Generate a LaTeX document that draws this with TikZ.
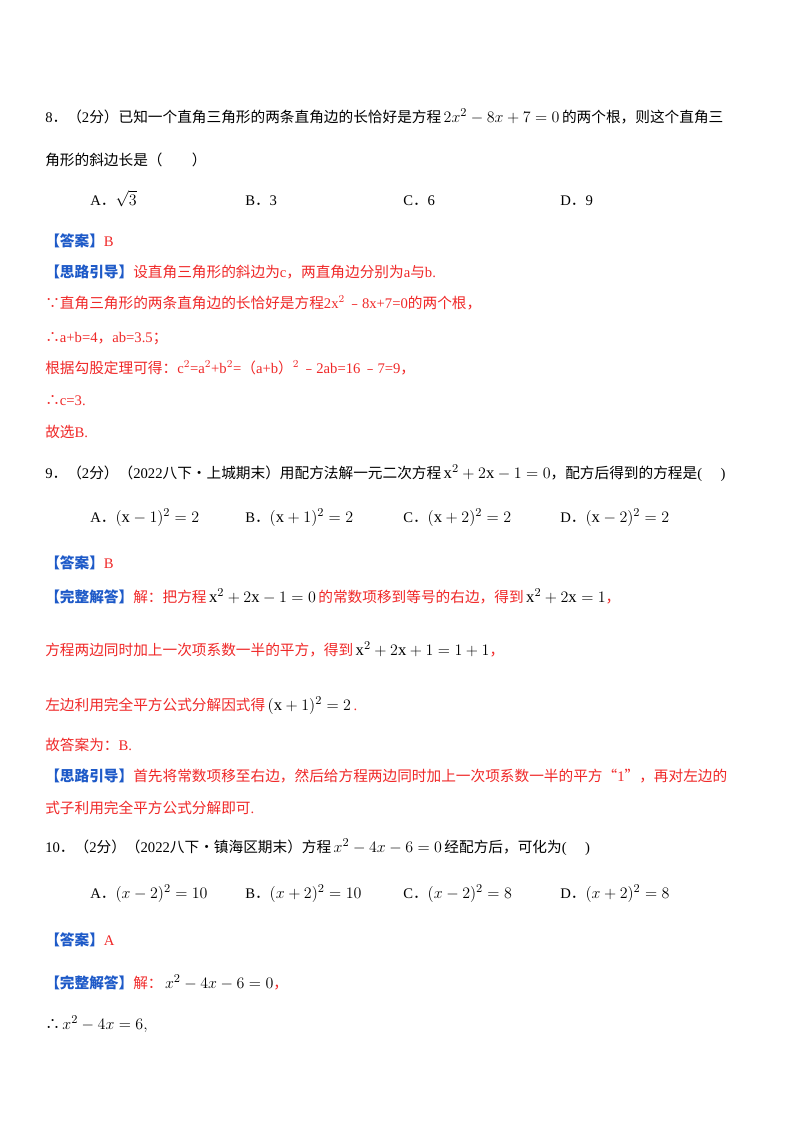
\documentclass[tikz,border=0pt]{standalone}
\usepackage{fontspec}
\setmainfont{Liberation Serif}
\newfontfamily\zhf{Noto Sans CJK SC}
\newcommand\zh[1]{{\zhf #1}}
\definecolor{ansred}{RGB}{240,40,40}
\definecolor{lblue}{RGB}{30,90,200}
\newcommand\lab[1]{{\color{lblue}\zhf\bfseries 【#1】}}
\newcommand\eq[1]{{\fontsize{12.5pt}{14pt}\selectfont$#1$}}
\begin{document}
\begin{tikzpicture}[x=0.75pt,y=-0.75pt,
  t/.style={anchor=base west,inner sep=0pt,font=\fontsize{11pt}{13pt}\selectfont},
  r/.style={t,text=ansred}]
\useasboundingbox (0,0) rectangle (800,1132);
\fill[white] (0,0) rectangle (800,1132);
% Q8
\node[t] (q8a) at (45,122) {8\zh{．（}2\zh{分）已知一个直角三角形的两条直角边的长恰好是方程}\,\eq{2x^2-8x+7=0}\,\zh{的两个根，则这个直角三}};
\node[t] (q8b) at (45,165) {\zh{角形的斜边长是（　　）}};
\node[t] (a8a) at (90,205) {A\zh{．}\eq{\sqrt{3}}};
\node[t] (a8b) at (245,205) {B\zh{．}3};
\node[t] (a8c) at (403,205) {C\zh{．}6};
\node[t] (a8d) at (560,205) {D\zh{．}9};
\node[t] (ans8) at (45,246) {\lab{答案}{\color{ansred}B}};
\node[r] (s81) at (45,277) {\lab{思路引导}\zh{设直角三角形的斜边为}c\zh{，两直角边分别为}a\zh{与}b.};
\node[r] (s82) at (45,308) {\zh{∵直角三角形的两条直角边的长恰好是方程}2x$^2$\,\zh{﹣}8x+7=0\zh{的两个根，}};
\node[r] (s83) at (45,342) {\zh{∴}a+b=4\zh{，}ab=3.5\zh{；}};
\node[r] (s84) at (45,373) {\zh{根据勾股定理可得：}c$^2$=a$^2$+b$^2$=\zh{（}a+b\zh{）}$^2$\,\zh{﹣}2ab=16\,\zh{﹣}7=9\zh{，}};
\node[r] (s85) at (45,405) {\zh{∴}c=3.};
\node[r] (s86) at (45,437) {\zh{故选}B.};
% Q9
\node[t] (q9) at (45,478) {9\zh{．（}2\zh{分）（}2022\zh{八下·上城期末）用配方法解一元二次方程}\,\eq{\mathrm{x}^2+2\mathrm{x}-1=0}\zh{，配方后得到的方程是}(\quad\ )};
\node[t] (a9a) at (90,522) {A\zh{．}\eq{(\mathrm{x}-1)^2=2}};
\node[t] (a9b) at (245,522) {B\zh{．}\eq{(\mathrm{x}+1)^2=2}};
\node[t] (a9c) at (403,522) {C\zh{．}\eq{(\mathrm{x}+2)^2=2}};
\node[t] (a9d) at (560,522) {D\zh{．}\eq{(\mathrm{x}-2)^2=2}};
\node[t] (ans9) at (45,568) {\lab{答案}{\color{ansred}B}};
\node[r] (s91) at (45,602) {\lab{完整解答}\zh{解：把方程}\,{\color{black}\eq{\mathrm{x}^2+2\mathrm{x}-1=0}}\,\zh{的常数项移到等号的右边，得到}\,{\color{black}\eq{\mathrm{x}^2+2\mathrm{x}=1}}\zh{，}};
\node[r] (s92) at (45,655) {\zh{方程两边同时加上一次项系数一半的平方，得到}\,{\color{black}\eq{\mathrm{x}^2+2\mathrm{x}+1=1+1}}\zh{，}};
\node[r] (s93) at (45,710) {\zh{左边利用完全平方公式分解因式得}\,{\color{black}\eq{(\mathrm{x}+1)^2=2}}\,.};
\node[r] (s94) at (45,750) {\zh{故答案为：}B.};
\node[r] (s95) at (45,781) {\lab{思路引导}\zh{首先将常数项移至右边，然后给方程两边同时加上一次项系数一半的平方“}1\zh{”，再对左边的}};
\node[r] (s96) at (45,813) {\zh{式子利用完全平方公式分解即可}.};
% Q10
\node[t] (q10) at (45,852) {10\zh{．（}2\zh{分）（}2022\zh{八下·镇海区期末）方程}\,\eq{x^2-4x-6=0}\,\zh{经配方后，可化为}(\quad\ )};
\node[t] (a10a) at (90,898) {A\zh{．}\eq{(x-2)^2=10}};
\node[t] (a10b) at (245,898) {B\zh{．}\eq{(x+2)^2=10}};
\node[t] (a10c) at (403,898) {C\zh{．}\eq{(x-2)^2=8}};
\node[t] (a10d) at (560,898) {D\zh{．}\eq{(x+2)^2=8}};
\node[t] (ans10) at (45,945) {\lab{答案}{\color{ansred}A}};
\node[r] (s101) at (45,988) {\lab{完整解答}\zh{解：}\,{\color{black}\eq{x^2-4x-6=0}}\zh{，}};
\node[t] (s102) at (45,1029) {\zh{∴}\,\eq{x^2-4x=6,}};
\end{tikzpicture}
\end{document}
